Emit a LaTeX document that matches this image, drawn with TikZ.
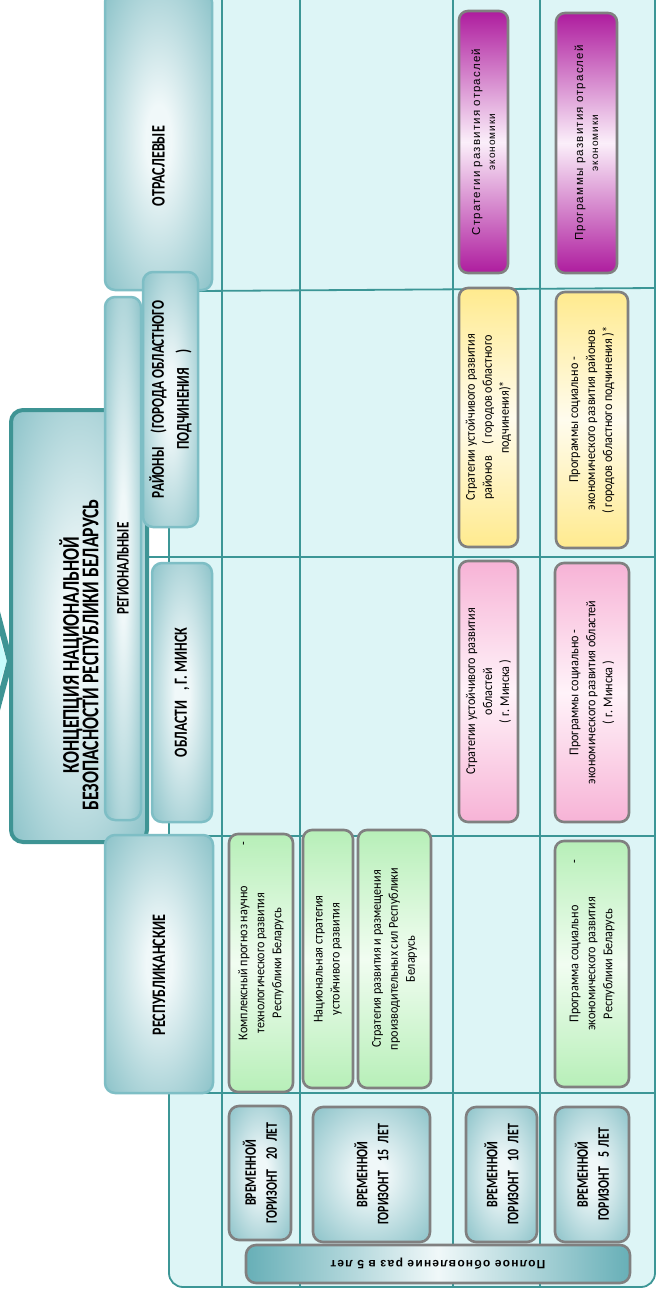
\documentclass[tikz,border=0pt]{standalone}
\usepackage{fontspec}
\setmainfont{Carlito}
\newfontfamily\hdfont{Carlito}[FakeStretch=0.74]
\newfontfamily\bxfont{Carlito}[FakeStretch=0.9]
\newfontfamily\spfont{Liberation Sans}[LetterSpace=10]
\definecolor{tealline}{HTML}{3C9696}
\definecolor{panel}{HTML}{DDF5F6}
\definecolor{hdedge}{HTML}{67AFB7}
\definecolor{hdmid}{HTML}{F0F8F9}
\definecolor{hdborder}{HTML}{7EBEC5}
\definecolor{bigborder}{HTML}{3E9494}
\definecolor{boxgray}{HTML}{808080}
\definecolor{grn}{HTML}{B7EFB8}
\definecolor{grnmid}{HTML}{F1FDF1}
\definecolor{pnk}{HTML}{F7B3D6}
\definecolor{pnkmid}{HTML}{FFF3F9}
\definecolor{ylw}{HTML}{FFEA8E}
\definecolor{ylwmid}{HTML}{FFFCEE}
\definecolor{mag}{HTML}{AE1C9E}
\definecolor{magmid}{HTML}{FBEFFA}
\definecolor{arrowcyan}{HTML}{C8FCFC}
\pgfdeclareradialshading{hdshade}{\pgfpoint{0bp}{0bp}}{color(0bp)=(hdmid); color(6bp)=(hdmid); color(46bp)=(hdedge); color(72bp)=(hdedge)}
\begin{document}
\begin{tikzpicture}[x=1pt,y=-1pt,
  gridline/.style={draw=tealline, line width=1.8pt},
  hdbox/.style={rounded corners=10pt, shading=hdshade, draw=hdborder, line width=2.5pt, rotate=90, align=center, inner sep=0pt, font=\hdfont\bfseries\fontsize{19}{24}\selectfont},
  bigbox/.style={rounded corners=12pt, shading=hdshade, draw=bigborder, line width=4pt, rotate=90, inner sep=0pt},
  colbox/.style={rounded corners=9pt, draw=boxgray, line width=2.6pt, rotate=90, align=center, inner sep=0pt, font=\bxfont\fontsize{13.5}{17}\selectfont},
  greenbox/.style={colbox, top color=grn, bottom color=grn, middle color=grnmid},
  pinkbox/.style={colbox, top color=pnk, bottom color=pnk, middle color=pnkmid},
  yellowbox/.style={colbox, top color=ylw, bottom color=ylw, middle color=ylwmid},
  magbox/.style={colbox, top color=mag, bottom color=mag, middle color=magmid, font=\spfont\fontsize{11.5}{15}\selectfont},
  timebox/.style={rounded corners=10pt, shading=hdshade, draw=boxgray, line width=2.6pt, rotate=90, align=center, inner sep=0pt, font=\hdfont\bfseries\fontsize{16}{21}\selectfont},
  fullbox/.style={rounded corners=10pt, left color=hdedge, right color=hdedge, middle color=hdmid, draw=boxgray, line width=2.6pt, rotate=180, inner sep=0pt, font=\spfont\bfseries\fontsize{12}{14}\selectfont}
]
\useasboundingbox (0,0) rectangle (657,1293);
\fill[white] (0,0) rectangle (657,1293);
% panel and grid
\draw[draw=tealline, fill=panel, line width=1.8pt, rounded corners=14pt] (169,-30) rectangle (655,1287);
\draw[gridline, line width=1.4pt] (146,527) -- (146,836);
\foreach \gx in {222,300,453,540} {\draw[gridline] (\gx,-5) -- (\gx,1287);}
\draw[gridline] (199,291) -- (655,288);
\draw[gridline] (146,557) -- (655,557);
\draw[gridline] (160,836) -- (655,836);
\draw[gridline] (169,1093) -- (655,1093);
% left arrow
\fill[arrowcyan] (-4,628) -- (7,661) -- (-4,694) -- cycle;
\draw[bigborder, line width=6pt] (-3,612) -- (10,661) -- (-3,710);
% main box
\node[bigbox, minimum width=432pt, minimum height=136pt] (concept) at (79,626) {};
\node[rotate=90, align=center, font=\hdfont\bfseries\fontsize{24}{19.5}\selectfont] (concepttext) at (79,655) {КОНЦЕПЦИЯ НАЦИОНАЛЬНОЙ\\БЕЗОПАСНОСТИ РЕСПУБЛИКИ БЕЛАРУСЬ};
% headers
\node[hdbox, minimum width=523pt, minimum height=36pt, font=\hdfont\bfseries\fontsize{17.5}{20}\selectfont] (reg) at (123,558.5) {РЕГИОНАЛЬНЫЕ\rule{20pt}{0pt}};
\node[hdbox, minimum width=298pt, minimum height=107pt] (otr) at (158.5,141) {ОТРАСЛЕВЫЕ\rule{50pt}{0pt}};
\node[hdbox, minimum width=255pt, minimum height=55pt, font=\hdfont\bfseries\fontsize{18}{25}\selectfont] (ray) at (170.5,399.5) {РАЙОНЫ\hspace{14pt}(ГОРОДА ОБЛАСТНОГО\\ПОДЧИНЕНИЯ\hspace{14pt})};
\node[hdbox, minimum width=259pt, minimum height=60pt, font=\hdfont\bfseries\fontsize{18.5}{22}\selectfont] (obl) at (182,692.5) {ОБЛАСТИ\hspace{10pt}, Г.\ МИНСК};
\node[hdbox, minimum width=258pt, minimum height=108pt] (resp) at (159,964) {РЕСПУБЛИКАНСКИЕ\rule{22pt}{0pt}};
% green
\node[greenbox, minimum width=258pt, minimum height=64pt] (kp) at (261,963) {Комплексный прогноз научно\rlap{\hspace{40pt}-}\\технологического развития\\Республики Беларусь};
\node[greenbox, minimum width=258pt, minimum height=50pt] (ns) at (328,959) {Национальная стратегия\\устойчивого развития};
\node[greenbox, minimum width=258pt, minimum height=73pt] (sr) at (394.5,959) {Стратегия развития и размещения\\производительных сил Республики\\Беларусь};
\node[greenbox, minimum width=246pt, minimum height=74pt] (ps) at (592,964) {Программа социально\rlap{\hspace{42pt}-}\\экономического развития\\Республики Беларусь};
% pink
\node[pinkbox, minimum width=261pt, minimum height=59pt] (so) at (488.5,691.5) {Стратегии устойчивого развития\\областей\\( г. Минска )};
\node[pinkbox, minimum width=259pt, minimum height=74pt] (po) at (592,692.5) {Программы социально -\\экономического развития областей\\( г. Минска )};
% yellow
\node[yellowbox, minimum width=259pt, minimum height=59pt] (sra) at (488.5,417.5) {Стратегии устойчивого развития\\районов\hspace{12pt}( городов областного\\подчинения)*};
\node[yellowbox, minimum width=256pt, minimum height=72pt] (pra) at (592,420) {Программы социально -\\экономического развития районов\\( городов областного подчинения )*};
% magenta
\node[magbox, minimum width=262pt, minimum height=49pt] (sot) at (483.5,142) {Стратегии развития отраслей\\{\fontsize{10}{12}\selectfont экономики}};
\node[magbox, minimum width=260pt, minimum height=61pt] (pot) at (586.5,143) {Програм\,м\,ы развития отраслей\\{\fontsize{10}{12}\selectfont экономики}};
% time horizons
\node[timebox, minimum width=134pt, minimum height=62pt] (t20) at (260,1173) {ВРЕМЕННОЙ\\ГОРИЗОНТ\hspace{10pt}20\hspace{6pt}ЛЕТ};
\node[timebox, minimum width=135pt, minimum height=117pt] (t15) at (371.5,1174.5) {ВРЕМЕННОЙ\\ГОРИЗОНТ\hspace{10pt}15\hspace{6pt}ЛЕТ};
\node[timebox, minimum width=135pt, minimum height=71pt] (t10) at (501.5,1174.5) {ВРЕМЕННОЙ\\ГОРИЗОНТ\hspace{10pt}10\hspace{6pt}ЛЕТ};
\node[timebox, minimum width=135pt, minimum height=74pt] (t5) at (592,1174.5) {ВРЕМЕННОЙ\\ГОРИЗОНТ\hspace{10pt}5\hspace{4pt}ЛЕТ};
\node[fullbox, minimum width=384pt, minimum height=38pt] (full) at (438,1264) {Полное обновление раз в 5 лет};
\end{tikzpicture}
\end{document}
